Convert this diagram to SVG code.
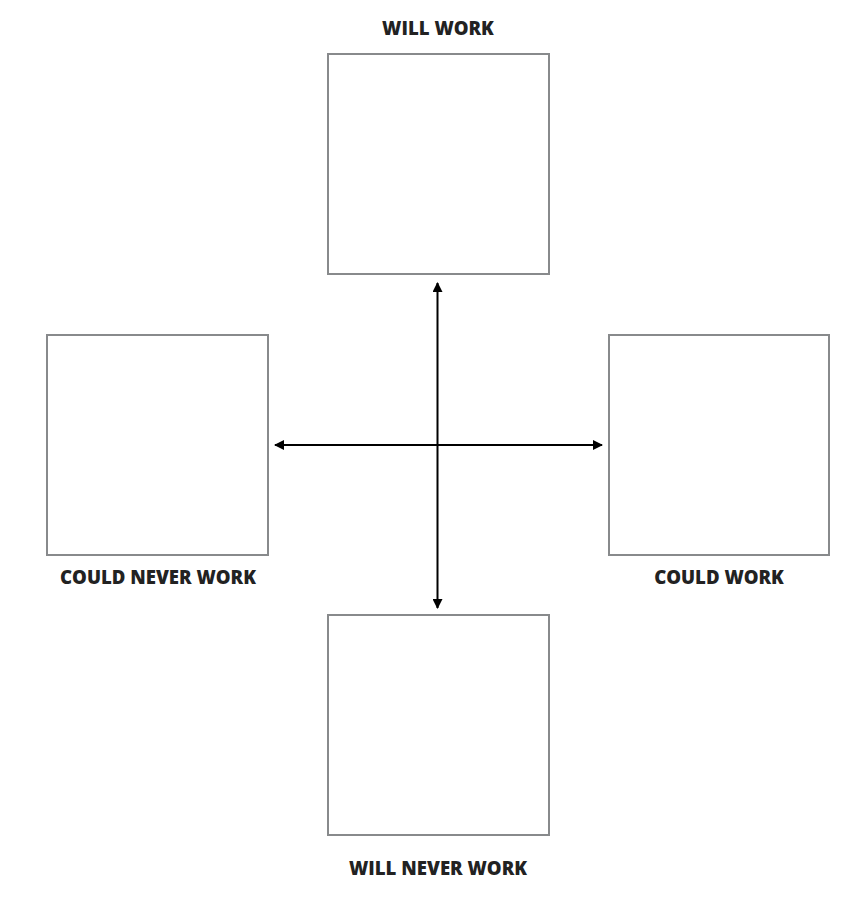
<svg xmlns="http://www.w3.org/2000/svg" width="868" height="914" viewBox="0 0 868 914">
<style>
.box{fill:#fff;stroke:#888a8c;stroke-width:2}
.lbl{font-family:"Open Sans","Liberation Sans",sans-serif;font-weight:800;font-size:18.6px;fill:#222;text-anchor:middle}
.conn{stroke:#000;stroke-width:2;fill:none}
</style>
<defs>
<marker id="ah" viewBox="0 0 10 10" refX="9" refY="5" markerWidth="5" markerHeight="5" orient="auto-start-reverse" markerUnits="strokeWidth">
<path d="M0,0 L10,5 L0,10 z" fill="#000"/>
</marker>
</defs>
<rect width="868" height="914" fill="#fff"/>
<g id="top"><rect class="box" x="328" y="54" width="221" height="220"/><text class="lbl" x="438" y="35">WILL WORK</text></g>
<g id="left"><rect class="box" x="47" y="335" width="221" height="220"/><text class="lbl" x="158" y="584">COULD NEVER WORK</text></g>
<g id="right"><rect class="box" x="609" y="335" width="220" height="220"/><text class="lbl" x="719" y="584">COULD WORK</text></g>
<g id="bottom"><rect class="box" x="328" y="615" width="221" height="220"/><text class="lbl" x="438" y="875">WILL NEVER WORK</text></g>
<g id="connectors">
<line class="conn" x1="437.5" y1="283" x2="437.5" y2="608" marker-start="url(#ah)" marker-end="url(#ah)"/>
<line class="conn" x1="275" y1="445" x2="602" y2="445" marker-start="url(#ah)" marker-end="url(#ah)"/>
</g>
</svg>
